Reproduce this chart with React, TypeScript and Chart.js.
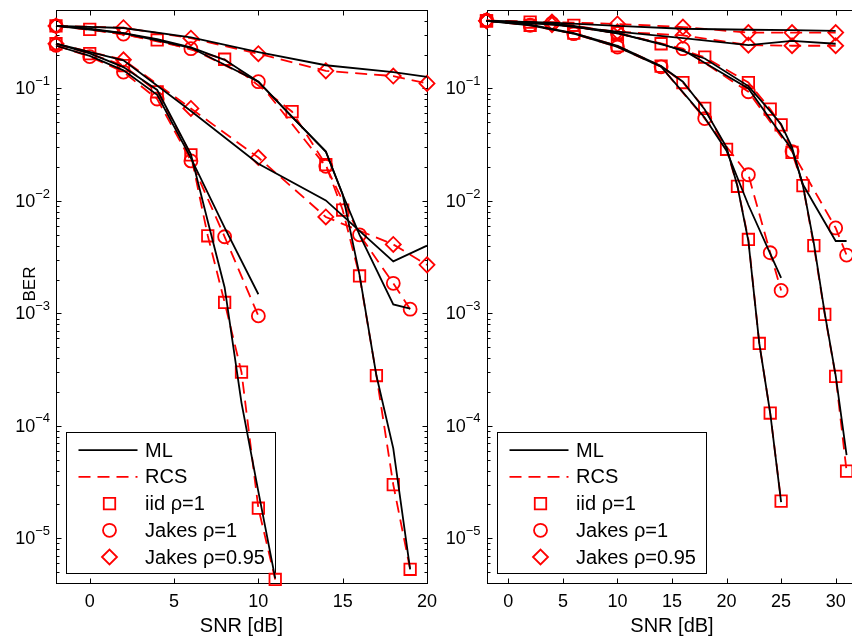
import React, { useEffect, useRef } from 'react';
import { Chart, registerables } from 'chart.js';

Chart.register(...registerables);

// ===== Axes, ticks and labels =====
const LEFT_SNR_LIMITS = [-2, 20];
const RIGHT_SNR_LIMITS = [-2, 32];
const BER_LIMITS = [4e-6, 0.5];
const LEFT_SNR_TICKS = [0, 5, 10, 15, 20];
const RIGHT_SNR_TICKS = [0, 5, 10, 15, 20, 25, 30];
const BER_TICK_EXPONENTS = [-1, -2, -3, -4, -5];
const LEGEND_LABELS = ['ML', 'RCS', 'iid ρ=1', 'Jakes ρ=1', 'Jakes ρ=0.95'];
const X_TITLE = 'SNR [dB]';
const Y_TITLE = 'BER';

// ===== Left panel, low-SNR group =====
const L_A_IID_ML_SNR = [-2, 0, 2, 4, 6, 7, 8, 9, 10, 11];
const L_A_IID_ML_BER = [0.25, 0.205, 0.155, 0.097, 0.026, 0.0066, 0.0017, 0.00016, 2.6e-5, 4.4e-6];
const L_A_IID_RCS_SNR = [-2, 0, 2, 4, 6, 7, 8, 9, 10, 11];
const L_A_IID_RCS_BER = [0.25, 0.204, 0.16, 0.0935, 0.0257, 0.0049, 0.00125, 0.0003, 1.85e-5, 4.3e-6];
const L_A_J1_ML_SNR = [-2, 0, 2, 4, 6, 8, 10];
const L_A_J1_ML_BER = [0.24, 0.195, 0.145, 0.088, 0.024, 0.0058, 0.00148];
const L_A_J1_RCS_SNR = [-2, 0, 2, 4, 6, 8, 10];
const L_A_J1_RCS_BER = [0.242, 0.192, 0.14, 0.0806, 0.0227, 0.0048, 0.00095];
const L_A_J95_ML_SNR = [-2, 2, 6, 10, 14, 18, 20];
const L_A_J95_ML_BER = [0.25, 0.178, 0.063, 0.0214, 0.0101, 0.0029, 0.004];
const L_A_J95_RCS_SNR = [-2, 2, 6, 10, 14, 18, 20];
const L_A_J95_RCS_BER = [0.25, 0.18, 0.0665, 0.0243, 0.0072, 0.0041, 0.0027];

// ===== Left panel, high-SNR group =====
const L_B_IID_ML_SNR = [-2, 0, 2, 4, 6, 8, 10, 12, 14, 15, 16, 17, 18, 19];
const L_B_IID_ML_BER = [0.36, 0.34, 0.31, 0.275, 0.232, 0.18, 0.115, 0.056, 0.0275, 0.0114, 0.0022, 0.00028, 6.3e-5, 5.3e-6];
const L_B_IID_RCS_SNR = [-2, 0, 4, 8, 12, 14, 15, 16, 17, 18, 19];
const L_B_IID_RCS_BER = [0.36, 0.336, 0.27, 0.182, 0.0622, 0.021, 0.0083, 0.00215, 0.00028, 3.0e-5, 5.3e-6];
const L_B_J1_ML_SNR = [-2, 2, 6, 10, 12, 14, 15, 16, 18, 19];
const L_B_J1_ML_BER = [0.36, 0.31, 0.23, 0.115, 0.056, 0.0275, 0.0114, 0.005, 0.0012, 0.0011];
const L_B_J1_RCS_SNR = [-2, 2, 6, 10, 14, 16, 18, 19];
const L_B_J1_RCS_BER = [0.36, 0.305, 0.226, 0.115, 0.0203, 0.005, 0.00185, 0.00109];
const L_B_J95_ML_SNR = [-2, 2, 6, 10, 14, 18, 20];
const L_B_J95_ML_BER = [0.36, 0.345, 0.285, 0.211, 0.161, 0.14, 0.127];
const L_B_J95_RCS_SNR = [-2, 2, 6, 10, 14, 18, 20];
const L_B_J95_RCS_BER = [0.36, 0.347, 0.28, 0.204, 0.1435, 0.129, 0.111];

// ===== Right panel, low-SNR group =====
const R_A_IID_ML_SNR = [-2, 2, 6, 10, 14, 16, 18, 20, 21, 22, 23, 24, 25];
const R_A_IID_ML_BER = [0.4, 0.37, 0.31, 0.24, 0.158, 0.115, 0.065, 0.03, 0.0135, 0.0044, 0.00054, 0.00013, 2.1e-5];
const R_A_IID_RCS_SNR = [-2, 2, 6, 10, 14, 16, 18, 20, 21, 22, 23, 24, 25];
const R_A_IID_RCS_BER = [0.4, 0.365, 0.31, 0.24, 0.158, 0.113, 0.0665, 0.0288, 0.0135, 0.00454, 0.00054, 0.00013, 2.14e-5];
const R_A_J1_ML_SNR = [-2, 2, 6, 10, 14, 18, 20, 22, 24, 25];
const R_A_J1_ML_BER = [0.4, 0.365, 0.307, 0.234, 0.156, 0.055, 0.028, 0.0092, 0.0034, 0.00207];
const R_A_J1_RCS_SNR = [-2, 2, 6, 10, 14, 18, 22, 24, 25];
const R_A_J1_RCS_BER = [0.404, 0.365, 0.307, 0.234, 0.156, 0.054, 0.0171, 0.00346, 0.0016];
const R_A_J95_ML_SNR = [-2, 4, 10, 16, 22, 26, 30];
const R_A_J95_ML_BER = [0.4, 0.37, 0.32, 0.28, 0.243, 0.265, 0.25];
const R_A_J95_RCS_SNR = [-2, 4, 10, 16, 22, 26, 30];
const R_A_J95_RCS_BER = [0.4, 0.37, 0.32, 0.297, 0.243, 0.24, 0.24];

// ===== Right panel, high-SNR group =====
const R_B_IID_ML_SNR = [-2, 2, 6, 10, 14, 18, 22, 24, 25, 26, 27, 28, 29, 30, 31];
const R_B_IID_ML_BER = [0.4, 0.39, 0.36, 0.31, 0.25, 0.185, 0.105, 0.063, 0.048, 0.03, 0.0137, 0.0042, 0.001, 0.00028, 5.5e-5];
const R_B_IID_RCS_SNR = [-2, 2, 6, 10, 14, 18, 22, 24, 25, 26, 27, 28, 29, 30, 31];
const R_B_IID_RCS_BER = [0.4, 0.39, 0.365, 0.314, 0.25, 0.19, 0.113, 0.0656, 0.0474, 0.027, 0.0137, 0.004, 0.00098, 0.000275, 3.95e-5];
const R_B_J1_ML_SNR = [-2, 4, 10, 16, 22, 26, 27, 28, 30, 31];
const R_B_J1_ML_BER = [0.4, 0.38, 0.31, 0.22, 0.1, 0.0285, 0.014, 0.0095, 0.0044, 0.0044];
const R_B_J1_RCS_SNR = [-2, 4, 10, 16, 22, 26, 30, 31];
const R_B_J1_RCS_BER = [0.404, 0.38, 0.31, 0.226, 0.0935, 0.0275, 0.00575, 0.0033];
const R_B_J95_ML_SNR = [-2, 4, 10, 16, 22, 26, 30];
const R_B_J95_ML_BER = [0.4, 0.385, 0.36, 0.34, 0.333, 0.33, 0.325];
const R_B_J95_RCS_SNR = [-2, 4, 10, 16, 22, 26, 30];
const R_B_J95_RCS_BER = [0.4, 0.39, 0.375, 0.352, 0.314, 0.314, 0.314];

type Marker = 'rect' | 'circle' | 'rectRot';
type Series = { snr: number[]; ber: number[]; kind: 'ML' | 'RCS'; marker: Marker };

const LEFT_SERIES: Series[] = [
  { snr: L_A_IID_ML_SNR, ber: L_A_IID_ML_BER, kind: 'ML', marker: 'rect' },
  { snr: L_A_J1_ML_SNR, ber: L_A_J1_ML_BER, kind: 'ML', marker: 'circle' },
  { snr: L_A_J95_ML_SNR, ber: L_A_J95_ML_BER, kind: 'ML', marker: 'rectRot' },
  { snr: L_B_IID_ML_SNR, ber: L_B_IID_ML_BER, kind: 'ML', marker: 'rect' },
  { snr: L_B_J1_ML_SNR, ber: L_B_J1_ML_BER, kind: 'ML', marker: 'circle' },
  { snr: L_B_J95_ML_SNR, ber: L_B_J95_ML_BER, kind: 'ML', marker: 'rectRot' },
  { snr: L_A_IID_RCS_SNR, ber: L_A_IID_RCS_BER, kind: 'RCS', marker: 'rect' },
  { snr: L_A_J1_RCS_SNR, ber: L_A_J1_RCS_BER, kind: 'RCS', marker: 'circle' },
  { snr: L_A_J95_RCS_SNR, ber: L_A_J95_RCS_BER, kind: 'RCS', marker: 'rectRot' },
  { snr: L_B_IID_RCS_SNR, ber: L_B_IID_RCS_BER, kind: 'RCS', marker: 'rect' },
  { snr: L_B_J1_RCS_SNR, ber: L_B_J1_RCS_BER, kind: 'RCS', marker: 'circle' },
  { snr: L_B_J95_RCS_SNR, ber: L_B_J95_RCS_BER, kind: 'RCS', marker: 'rectRot' },
];

const RIGHT_SERIES: Series[] = [
  { snr: R_A_IID_ML_SNR, ber: R_A_IID_ML_BER, kind: 'ML', marker: 'rect' },
  { snr: R_A_J1_ML_SNR, ber: R_A_J1_ML_BER, kind: 'ML', marker: 'circle' },
  { snr: R_A_J95_ML_SNR, ber: R_A_J95_ML_BER, kind: 'ML', marker: 'rectRot' },
  { snr: R_B_IID_ML_SNR, ber: R_B_IID_ML_BER, kind: 'ML', marker: 'rect' },
  { snr: R_B_J1_ML_SNR, ber: R_B_J1_ML_BER, kind: 'ML', marker: 'circle' },
  { snr: R_B_J95_ML_SNR, ber: R_B_J95_ML_BER, kind: 'ML', marker: 'rectRot' },
  { snr: R_A_IID_RCS_SNR, ber: R_A_IID_RCS_BER, kind: 'RCS', marker: 'rect' },
  { snr: R_A_J1_RCS_SNR, ber: R_A_J1_RCS_BER, kind: 'RCS', marker: 'circle' },
  { snr: R_A_J95_RCS_SNR, ber: R_A_J95_RCS_BER, kind: 'RCS', marker: 'rectRot' },
  { snr: R_B_IID_RCS_SNR, ber: R_B_IID_RCS_BER, kind: 'RCS', marker: 'rect' },
  { snr: R_B_J1_RCS_SNR, ber: R_B_J1_RCS_BER, kind: 'RCS', marker: 'circle' },
  { snr: R_B_J95_RCS_SNR, ber: R_B_J95_RCS_BER, kind: 'RCS', marker: 'rectRot' },
];

// ===== Styling =====
const FONT = '"Liberation Sans", Arial, Helvetica, sans-serif';
const RED = '#ff0000';
const BLACK = '#000000';
const LINE_W = 1.8;
const DASH = [12, 7];
const POINT_RADIUS: Record<Marker, number> = { rect: 8.1, circle: 6.5, rectRot: 7.5 };
const CANVAS_W = 870;
const CANVAS_H = 637;

function toDataset(s: Series) {
  const data = s.snr.map((x, i) => ({ x, y: s.ber[i] }));
  if (s.kind === 'ML') {
    return {
      data, borderColor: BLACK, borderWidth: LINE_W, pointRadius: 0,
      fill: false, tension: 0, clip: false, order: 0,
    };
  }
  return {
    data, borderColor: RED, borderWidth: LINE_W, borderDash: DASH,
    pointStyle: s.marker, pointRadius: POINT_RADIUS[s.marker],
    pointBorderColor: RED, pointBackgroundColor: 'rgba(0,0,0,0)',
    pointBorderWidth: LINE_W, fill: false, tension: 0, clip: false, order: 1,
  };
}

function strokeMarker(ctx: CanvasRenderingContext2D, m: Marker, x: number, y: number) {
  ctx.beginPath();
  if (m === 'rect') {
    const h = POINT_RADIUS.rect * Math.SQRT1_2;
    ctx.rect(x - h, y - h, 2 * h, 2 * h);
  } else if (m === 'circle') {
    ctx.arc(x, y, POINT_RADIUS.circle, 0, Math.PI * 2);
  } else {
    const r = POINT_RADIUS.rectRot;
    ctx.moveTo(x - r, y);
    ctx.lineTo(x, y - r);
    ctx.lineTo(x + r, y);
    ctx.lineTo(x, y + r);
    ctx.closePath();
  }
  ctx.stroke();
}

function makeAxesPlugin(xTicks: number[], showYTitle: boolean) {
  return {
    id: 'matlabAxes',
    beforeDatasetsDraw(chart: any) {
      const { ctx, chartArea: ca } = chart;
      const xs = chart.scales.x;
      const ys = chart.scales.y;
      const L = Math.round(ca.left) + 0.5;
      const R = Math.round(ca.right) + 0.5;
      const T = Math.round(ca.top) + 0.5;
      const B = Math.round(ca.bottom) + 0.5;
      ctx.save();
      ctx.strokeStyle = BLACK;
      ctx.lineWidth = 1;
      ctx.strokeRect(L, T, R - L, B - T);

      // x ticks (inward, bottom and top)
      ctx.beginPath();
      for (const t of xTicks) {
        const px = Math.round(xs.getPixelForValue(t)) + 0.5;
        ctx.moveTo(px, B); ctx.lineTo(px, B - 5);
        ctx.moveTo(px, T); ctx.lineTo(px, T + 5);
      }
      // y ticks, major + minor
      for (let e = -7; e <= 0; e++) {
        for (let m = 1; m <= 9; m++) {
          const v = m * Math.pow(10, e);
          if (v < BER_LIMITS[0] || v > BER_LIMITS[1]) continue;
          const py = Math.round(ys.getPixelForValue(v)) + 0.5;
          const len = m === 1 ? 5 : 3;
          ctx.moveTo(L, py); ctx.lineTo(L + len, py);
          ctx.moveTo(R, py); ctx.lineTo(R - len, py);
        }
      }
      ctx.stroke();

      // tick labels
      ctx.fillStyle = BLACK;
      ctx.font = `18px ${FONT}`;
      ctx.textAlign = 'center';
      ctx.textBaseline = 'middle';
      for (const t of xTicks) {
        ctx.fillText(String(t), xs.getPixelForValue(t), ca.bottom + 19);
      }
      ctx.textAlign = 'left';
      for (const e of BER_TICK_EXPONENTS) {
        const py = ys.getPixelForValue(Math.pow(10, e));
        const sup = '\u2212' + String(Math.abs(e));
        ctx.font = `13px ${FONT}`;
        const supW = ctx.measureText(sup).width;
        ctx.font = `18px ${FONT}`;
        const mainW = ctx.measureText('10').width;
        const supX = ca.left - 6 - supW;
        const mainX = supX - mainW;
        ctx.fillText('10', mainX, py + 1);
        ctx.font = `13px ${FONT}`;
        ctx.fillText(sup, supX, py - 7);
      }

      // axis titles
      ctx.font = `20px ${FONT}`;
      ctx.textAlign = 'center';
      ctx.fillText(X_TITLE, (ca.left + ca.right) / 2, 626);
      if (showYTitle) {
        ctx.save();
        ctx.font = `17px ${FONT}`;
        ctx.translate(30, 284);
        ctx.rotate(-Math.PI / 2);
        ctx.fillText(Y_TITLE, 0, 0);
        ctx.restore();
      }

      // legend (drawn beneath data)
      const lw = 209, lh = 141;
      const lx = Math.round(ca.left + 10) + 0.5;
      const ly = Math.round(ca.bottom - 10 - lh) + 0.5;
      ctx.lineWidth = 1;
      ctx.strokeStyle = BLACK;
      ctx.strokeRect(lx, ly, lw, lh);
      const rowY = (i: number) => ly + 17.7 + 26.7 * i;
      const markers: Marker[] = ['rect', 'circle', 'rectRot'];
      for (let i = 0; i < LEGEND_LABELS.length; i++) {
        const y = rowY(i);
        ctx.lineWidth = LINE_W;
        if (i === 0) {
          ctx.strokeStyle = BLACK;
          ctx.setLineDash([]);
          ctx.beginPath(); ctx.moveTo(lx + 12, y); ctx.lineTo(lx + 71, y); ctx.stroke();
        } else if (i === 1) {
          ctx.strokeStyle = RED;
          ctx.setLineDash(DASH);
          ctx.beginPath(); ctx.moveTo(lx + 12, y); ctx.lineTo(lx + 71, y); ctx.stroke();
          ctx.setLineDash([]);
        } else {
          ctx.strokeStyle = RED;
          strokeMarker(ctx, markers[i - 2], lx + 43, y);
        }
        ctx.fillStyle = BLACK;
        ctx.font = `20px ${FONT}`;
        ctx.textAlign = 'left';
        ctx.fillText(LEGEND_LABELS[i], lx + 78.6, y + 1);
      }
      ctx.restore();
    },
  };
}

type PanelProps = {
  series: Series[];
  xLimits: number[];
  xTicks: number[];
  padding: { left: number; right: number; top: number; bottom: number };
  showYTitle: boolean;
};

function Panel({ series, xLimits, xTicks, padding, showYTitle }: PanelProps) {
  const ref = useRef<HTMLCanvasElement | null>(null);
  useEffect(() => {
    if (!ref.current) return;
    const chart = new Chart(ref.current, {
      type: 'line',
      data: { datasets: series.map(toDataset) as any },
      options: {
        responsive: false,
        animation: false,
        events: [],
        layout: { padding },
        plugins: { legend: { display: false }, tooltip: { enabled: false } },
        scales: {
          x: { type: 'linear', min: xLimits[0], max: xLimits[1], display: false },
          y: { type: 'logarithmic', min: BER_LIMITS[0], max: BER_LIMITS[1], display: false },
        },
      } as any,
      plugins: [makeAxesPlugin(xTicks, showYTitle)],
    });
    return () => chart.destroy();
  }, []);
  return (
    <canvas
      ref={ref}
      width={CANVAS_W}
      height={CANVAS_H}
      style={{ position: 'absolute', left: 0, top: 0, width: CANVAS_W, height: CANVAS_H }}
    />
  );
}

export default function App() {
  return (
    <div
      style={{
        position: 'fixed', left: 0, top: 0, width: 852, height: 637,
        overflow: 'hidden', background: '#ffffff',
      }}
    >
      <Panel
        series={LEFT_SERIES}
        xLimits={LEFT_SNR_LIMITS}
        xTicks={LEFT_SNR_TICKS}
        padding={{ left: 56, top: 7, right: CANVAS_W - 427, bottom: 54 }}
        showYTitle={true}
      />
      <Panel
        series={RIGHT_SERIES}
        xLimits={RIGHT_SNR_LIMITS}
        xTicks={RIGHT_SNR_TICKS}
        padding={{ left: 486.5, top: 7, right: CANVAS_W - 857.5, bottom: 54 }}
        showYTitle={false}
      />
    </div>
  );
}
